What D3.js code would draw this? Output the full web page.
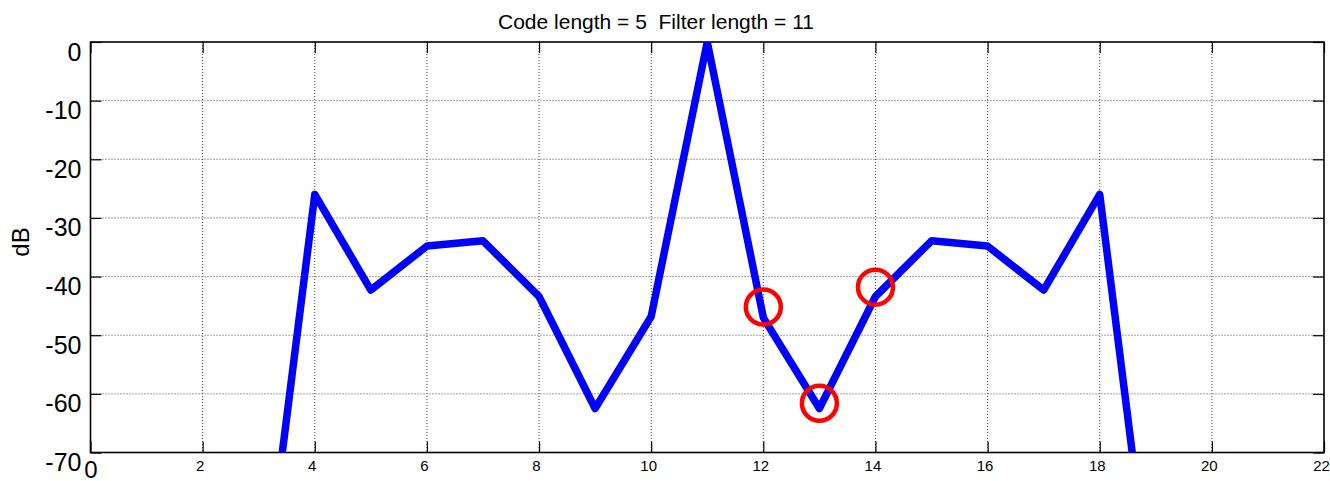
<!DOCTYPE html>
<html>
<head>
<meta charset="utf-8">
<script src="https://cdn.jsdelivr.net/npm/d3@7"></script>
<style>
  body { margin: 0; background: #fff; }
  svg { display: block; font-family: "Liberation Sans", Arial, sans-serif; }
</style>
</head>
<body>
<svg id="chart" width="1330" height="481"></svg>
<script>
// response samples (dB) vs lag
var lags = [3, 4, 5, 6, 7, 8, 9, 10, 11, 12, 13, 14, 15, 16, 17, 18, 19];
var dbValues = [-102, -26, -42.3, -34.8, -33.9, -43.4, -62.5, -46.8, 0, -47, -62.5, -43.4, -33.9, -34.8, -42.3, -26, -102];

// highlighted points
var markX = [12, 13, 14];
var markY = [-45.2, -61.6, -41.8];

var xTicks = [0, 2, 4, 6, 8, 10, 12, 14, 16, 18, 20, 22];
var yTicks = [0, -10, -20, -30, -40, -50, -60, -70];
var title = "Code length = 5  Filter length = 11";

var svg = d3.select("#chart");

var margins = { top: 42, bottom: 28.5, left: 90.5, right: 6 };
var width = 1330 - margins.left - margins.right;
var height = 481 - margins.top - margins.bottom;

var x = d3.scaleLinear().domain([0, 22]).range([0, width]);
var y = d3.scaleLinear().domain([-70, 0]).range([height, 0]);

var g = svg.append("g")
    .attr("transform", "translate(" + margins.left + "," + margins.top + ")");

g.append("clipPath").attr("id", "plotclip")
    .append("rect").attr("width", width).attr("height", height);

// grid (dotted)
g.append("g").selectAll("line")
    .data(xTicks.slice(1, -1))
    .enter().append("line")
    .attr("x1", d => x(d)).attr("x2", d => x(d))
    .attr("y1", 0).attr("y2", height)
    .attr("stroke", "#333").attr("stroke-width", 0.9)
    .attr("stroke-dasharray", "1,2");
g.append("g").selectAll("line")
    .data(yTicks.slice(1, -1))
    .enter().append("line")
    .attr("y1", d => y(d)).attr("y2", d => y(d))
    .attr("x1", 0).attr("x2", width)
    .attr("stroke", "#333").attr("stroke-width", 0.9)
    .attr("stroke-dasharray", "1,2");

var fmt = d => String(d);

// axes
var xAxis = g.append("g")
    .attr("transform", "translate(0," + height + ")")
    .call(d3.axisBottom(x).tickValues(xTicks).tickSize(-11).tickPadding(8).tickFormat(fmt));
xAxis.selectAll("text")
    .attr("fill", "#000")
    .attr("dx", d => d === 0 ? 0 : -3)
    .style("font-size", d => d === 0 ? "24px" : "15px");

var yAxis = g.append("g")
    .call(d3.axisLeft(y).tickValues(yTicks).tickSize(-11).tickPadding(9).tickFormat(fmt));
yAxis.selectAll("text")
    .attr("fill", "#000")
    .attr("dy", "0.72em")
    .style("font-size", "25px");

g.append("g")
    .call(d3.axisTop(x).tickValues(xTicks).tickSize(-11).tickFormat(""));
g.append("g")
    .attr("transform", "translate(" + width + ",0)")
    .call(d3.axisRight(y).tickValues(yTicks).tickSize(-11).tickFormat(""));

g.selectAll(".domain").remove();
g.selectAll(".tick line").attr("stroke", "#000").attr("stroke-width", 1.2);

g.append("rect")
    .attr("width", width).attr("height", height)
    .attr("fill", "none").attr("stroke", "#000").attr("stroke-width", 1.6);

// the response line
var line = d3.line()
    .x((d, i) => x(lags[i]))
    .y(d => y(d));

g.append("path")
    .datum(dbValues)
    .attr("clip-path", "url(#plotclip)")
    .attr("d", line)
    .attr("fill", "none")
    .attr("stroke", "#0000ff")
    .attr("stroke-width", 7.5)
    .attr("stroke-linejoin", "round");

// red rings
g.selectAll("circle.mark")
    .data(markX)
    .enter().append("circle")
    .attr("class", "mark")
    .attr("cx", d => x(d))
    .attr("cy", (d, i) => y(markY[i]))
    .attr("r", 17.5)
    .attr("fill", "none")
    .attr("stroke", "#ff0000")
    .attr("stroke-width", 4.5);

// title and label
svg.append("text")
    .attr("x", 656).attr("y", 29)
    .attr("text-anchor", "middle")
    .style("font-size", "21px")
    .style("white-space", "pre")
    .text(title);

svg.append("text")
    .attr("transform", "translate(21,242) rotate(-90)")
    .attr("text-anchor", "middle")
    .attr("dy", "0.35em")
    .style("font-size", "24px")
    .text("dB");
</script>
</body>
</html>
